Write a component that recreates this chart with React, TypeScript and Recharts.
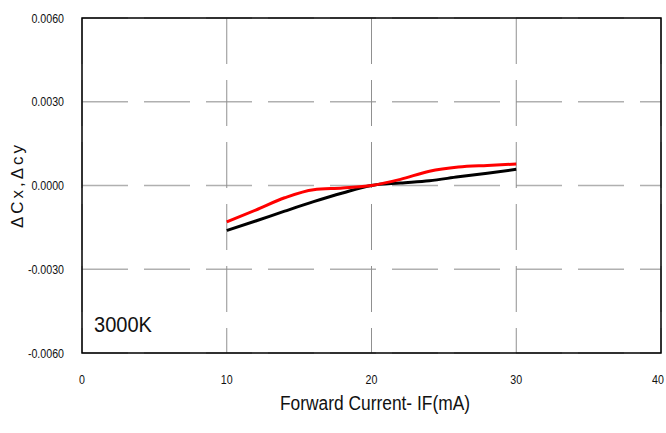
import React from 'react';
import {
  LineChart,
  Line,
  XAxis,
  YAxis,
  CartesianGrid,
  ReferenceArea,
  Customized,
} from 'recharts';

const currents = [10, 12, 14, 16, 18, 20, 22, 24, 26, 28, 30];
const deltaCx = [-0.00161, -0.00127, -0.00092, -0.00058, -0.00027, 0, 0.00009, 0.00017, 0.00031, 0.00044, 0.00058];
const deltaCy = [-0.0013, -0.00088, -0.00044, -0.00015, -0.00009, 0, 0.00022, 0.00051, 0.00066, 0.00072, 0.00077];
const xTicks = [0, 10, 20, 30, 40];
const yTicks = [-0.006, -0.003, 0, 0.003, 0.006];
const tempLabel = '3000K';
const xTitle = 'Forward Current- IF(mA)';
const yTitle = 'ΔCx,Δcy';

const data = currents.map((c, i) => ({ current: c, cx: deltaCx[i], cy: deltaCy[i] }));

const FONT = '"Liberation Sans", Arial, sans-serif';

// narrow look: squeeze glyphs horizontally
const XTick = ({ x, y, payload }: any) => (
  <text
    transform={`translate(${x}, ${y + 11}) scale(0.82, 1)`}
    textAnchor="middle"
    fontFamily={FONT}
    fontSize={13}
    fill="#111"
  >
    {payload.value}
  </text>
);

const YTick = ({ x, y, payload }: any) => (
  <text
    transform={`translate(${x}, ${y + 4.5}) scale(0.82, 1)`}
    textAnchor="end"
    fontFamily={FONT}
    fontSize={13}
    fill="#111"
  >
    {Number(payload.value).toFixed(4)}
  </text>
);

const Texts = () => (
  <g fontFamily={FONT} fill="#111">
    <text x={94} y={332} fontSize={22} textLength={58} lengthAdjust="spacingAndGlyphs">
      {tempLabel}
    </text>
    <text x={280} y={410} fontSize={20} textLength={190} lengthAdjust="spacingAndGlyphs">
      {xTitle}
    </text>
    <text
      x={0}
      y={0}
      transform="translate(23, 228) rotate(-90)"
      fontSize={17}
      textLength={83}
      lengthAdjust="spacing"
    >
      {yTitle}
    </text>
  </g>
);

export default function App() {
  return (
    <div style={{ position: 'absolute', left: 0, top: 0, width: 666, height: 433, background: '#fff' }}>
      <LineChart
        width={666}
        height={433}
        data={data}
        margin={{ top: 18, right: 5, bottom: 0, left: 0 }}
      >
        <CartesianGrid horizontal={true} vertical={false} stroke="#b0b0b0" strokeWidth={1.5} strokeDasharray="46 16" />
        <CartesianGrid horizontal={false} vertical={true} stroke="#909090" strokeWidth={1} strokeDasharray="46 16" />
        <XAxis
          dataKey="current"
          type="number"
          domain={[0, 40]}
          ticks={xTicks}
          tickLine={false}
          axisLine={false}
          tickMargin={14}
          height={80}
          tick={<XTick />}
        />
        <YAxis
          type="number"
          domain={[-0.006, 0.006]}
          ticks={yTicks}
          tickLine={false}
          axisLine={false}
          tickMargin={12}
          width={82}
          tick={<YTick />}
        />
        <ReferenceArea x1={0} x2={40} y1={-0.006} y2={0.006} fill="none" stroke="#000" strokeWidth={1.5} ifOverflow="visible" />
        <Line type="monotone" dataKey="cx" stroke="#000" strokeWidth={3} dot={false} isAnimationActive={false} />
        <Line type="monotone" dataKey="cy" stroke="#ff0000" strokeWidth={3} dot={false} isAnimationActive={false} />
        <Customized component={Texts} />
      </LineChart>
    </div>
  );
}
